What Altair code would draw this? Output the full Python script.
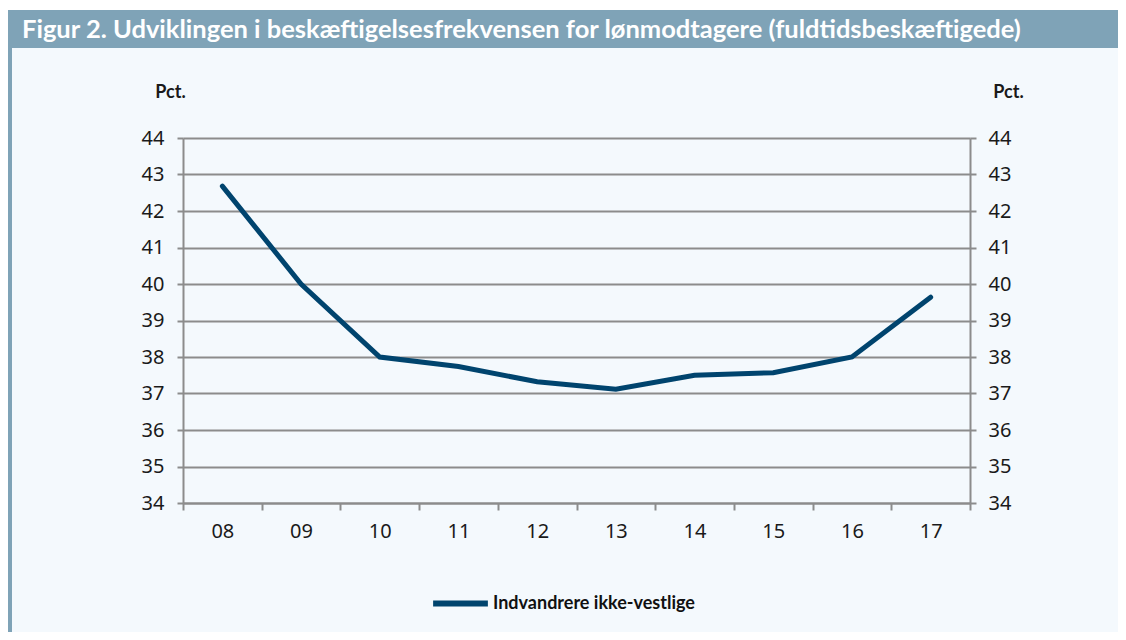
import altair as alt
import pandas as pd

# ---- data ----
years = [8, 9, 10, 11, 12, 13, 14, 15, 16, 17]
values = [42.68, 40.0, 38.0, 37.74, 37.32, 37.12, 37.5, 37.57, 38.0, 39.64]
series_name = "Indvandrere ikke-vestlige"
y_ticks = [34, 35, 36, 37, 38, 39, 40, 41, 42, 43, 44]
x_ticks = [7.5, 8, 8.5, 9, 9.5, 10, 10.5, 11, 11.5, 12, 12.5, 13, 13.5,
           14, 14.5, 15, 15.5, 16, 16.5, 17, 17.5]
title_text = "Figur 2. Udviklingen i beskæftigelsesfrekvensen for lønmodtagere (fuldtidsbeskæftigede)"
y_title = "Pct."

df = pd.DataFrame({"year": years, "value": values, "series": [series_name] * len(years)})

# ---- style ----
BG = "#f4f9fd"
BAND = "#7fa3b7"
GRID = "#8c8c8c"
LINE = "#00446e"
TXT = "#1a1a1a"

W, H = 787, 365
PL, PT = 175, 130
CW, CH = 1110, 624
PR, PB = CW - PL - W, CH - PT - H

yscale = alt.Scale(domain=[34, 44], nice=False, zero=False)
xscale = alt.Scale(domain=[7.5, 17.5], nice=False, zero=False)

x_enc = alt.X(
    "year:Q",
    scale=xscale,
    axis=alt.Axis(
        values=x_ticks,
        title=None,
        grid=False,
        labelExpr="datum.value % 1 == 0 ? (datum.value < 10 ? '0' + datum.value : '' + datum.value) : ''",
        labelFont="Noto Sans",
        labelFontSize=20,
        labelColor=TXT,
        labelPadding=11,
        labelFlush=False,
        labelOverlap=False,
        tickOpacity={"condition": {"test": "datum.value % 1 == 0", "value": 0}, "value": 1},
        tickSize=7,
        tickWidth=2,
        tickColor=GRID,
        domainColor=GRID,
        domainWidth=2,
    ),
)

left_axis = alt.Axis(
    values=y_ticks,
    orient="left",
    title=y_title,
    titleAngle=0,
    titleX=-13,
    titleY=-46,
    titleAlign="center",
    titleBaseline="middle",
    titleFont="Lato",
    titleFontWeight="bold",
    titleFontSize=18,
    titleColor=TXT,
    grid=True,
    gridColor=GRID,
    gridWidth=2,
    labelFont="Noto Sans",
    labelFontSize=20,
    labelColor=TXT,
    labelPadding=13,
    tickSize=6,
    tickWidth=2,
    tickColor=GRID,
    domainColor=GRID,
    domainWidth=2,
)

right_axis = alt.Axis(
    values=y_ticks,
    orient="right",
    title=y_title,
    titleAngle=0,
    titleX=38,
    titleY=-46,
    titleAlign="center",
    titleBaseline="middle",
    titleFont="Lato",
    titleFontWeight="bold",
    titleFontSize=18,
    titleColor=TXT,
    grid=False,
    labelFont="Noto Sans",
    labelFontSize=20,
    labelColor=TXT,
    labelPadding=12,
    tickSize=6,
    tickWidth=2,
    tickColor=GRID,
    domainColor=GRID,
    domainWidth=2,
)

dummy = alt.Chart(pd.DataFrame({"d": [0]}))

top_white = dummy.mark_rect(color="white").encode(
    x=alt.value(-PL), x2=alt.value(W + PR), y=alt.value(-PT), y2=alt.value(-PT + 2)
)
band = dummy.mark_rect(color=BAND).encode(
    x=alt.value(-PL), x2=alt.value(W + PR), y=alt.value(-PT + 2), y2=alt.value(-PT + 40)
)
strip = dummy.mark_rect(color=BAND).encode(
    x=alt.value(-PL), x2=alt.value(-PL + 4), y=alt.value(-PT + 2), y2=alt.value(H + PB)
)
title = dummy.mark_text(
    text=title_text, font="Lato", fontWeight="bold", fontSize=25.5, color="white",
    align="left", baseline="middle"
).encode(x=alt.value(22 - 183), y=alt.value(30 - 138))

right_layer = alt.Chart(df).mark_line(opacity=0).encode(
    x=x_enc,
    y=alt.Y("value:Q", scale=yscale, axis=right_axis),
)

line_layer = alt.Chart(df).mark_line(
    strokeWidth=5, strokeCap="round", strokeJoin="miter"
).encode(
    x=x_enc,
    y=alt.Y("value:Q", scale=yscale, axis=left_axis),
    color=alt.Color(
        "series:N",
        scale=alt.Scale(domain=[series_name], range=[LINE]),
        legend=alt.Legend(
            title=None,
            orient="none",
            legendX=430 - 183,
            legendY=435,
            direction="horizontal",
            symbolType="stroke",
            symbolSize=3000,
            symbolStrokeWidth=6,
            symbolStrokeColor=LINE,
            labelFont="Lato",
            labelFontWeight="bold",
            labelFontSize=18,
            labelColor="#111111",
            labelOffset=2,
            labelLimit=500,
            padding=0,
        ),
    ),
)

chart = (
    alt.layer(top_white, band, strip, title, right_layer, line_layer)
    .resolve_scale(y="independent")
    .properties(
        width=W,
        height=H,
        autosize=alt.AutoSizeParams(type="none"),
        padding={"left": PL, "top": PT, "right": PR, "bottom": PB},
        background=BG,
    )
    .configure_view(stroke=None)
)

chart.save("out.html", embed_options={"renderer": "svg", "actions": False})
